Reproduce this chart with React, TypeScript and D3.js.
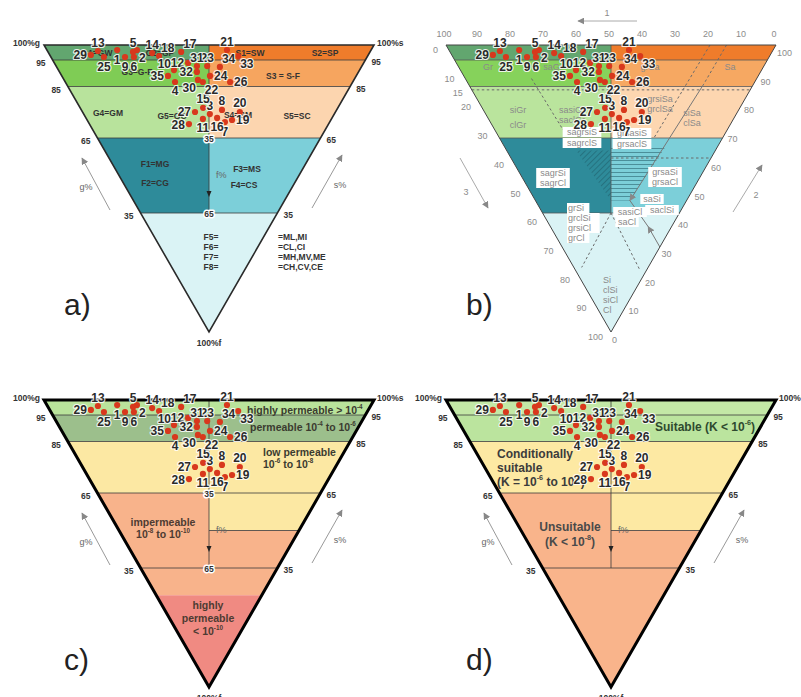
import React from "react";
import * as d3 from "d3";

// ---------------- data (ternary composition of the 35 samples, %) ----------------
const sampleIds = [1, 2, 3, 4, 5, 6, 7, 8, 9, 10, 11, 12, 13, 14, 15, 16, 17, 18, 19, 20, 21, 22, 23, 24, 25, 26, 27, 28, 29, 30, 31, 32, 33, 34, 35];
const gravelPct = [77.0, 71.0, 36.9, 53.6, 71.9, 70.8, 30.9, 34.1, 73.5, 56.2, 38.0, 53.3, 82.7, 65.9, 40.1, 34.0, 57.3, 63.3, 29.2, 28.4, 43.7, 45.2, 46.9, 44.2, 79.9, 37.0, 41.7, 41.1, 84.2, 47.1, 50.0, 48.9, 39.3, 42.9, 56.9];
const sandPct = [21.3, 27.3, 37.4, 33.1, 25.8, 25.2, 40.3, 41.8, 22.5, 35.0, 34.4, 40.6, 15.3, 31.4, 36.6, 38.8, 40.4, 33.0, 42.8, 46.7, 54.6, 41.5, 45.8, 44.8, 16.1, 49.7, 33.4, 29.3, 12.5, 40.4, 42.7, 41.6, 57.0, 49.5, 32.1];
const labelSide = ["s", "se", "n", "s", "n", "s", "s", "n", "s", "nw", "s", "w", "n", "n", "n", "s", "ne", "ne", "e", "n", "n", "se", "n", "e", "s", "e", "w", "w", "w", "sw", "n", "w", "se", "ne", "w"];

// fines class breaks and the diagram's (non-uniform) fines axis
const finesBreaks = [0, 5, 15, 35, 65, 100];
const finesAxisPx = [0, 15, 41.5, 93, 168, 287];

// side tick labels (a, c, d)
const sideTicks = [95, 85, 65, 35];
const centerTicks = [35, 65];
// panel b ternary axes
const gravelTicks = [100, 90, 80, 70, 60, 50, 40, 30, 20, 10, 0];
const finesTicks = [0, 10, 15, 20, 30, 40, 50, 60, 70, 80, 90, 100];
const sandTicks = [100, 90, 80, 70, 60, 50, 40, 30, 20, 10, 0];

const W = 330;
const H = 287;
const FONT = "'Liberation Sans', Arial, Helvetica, sans-serif";

type Pt = [number, number];

function geom(ox: number, oy: number) {
  const fy = d3.scaleLinear().domain(finesBreaks).range(finesAxisPx.map((v) => oy + v));
  const cx = ox + W / 2;
  const hw = (f: number) => (W / 2) * (1 - (fy(f) - oy) / H);
  const at = (g: number, s: number): Pt => {
    const f = 100 - g - s;
    const t = g + s;
    const r = t > 0 ? (s - g) / t : 0;
    return [cx + r * hw(f), fy(f)];
  };
  const L = (f: number): Pt => [cx - hw(f), fy(f)];
  const R = (f: number): Pt => [cx + hw(f), fy(f)];
  const C = (f: number): Pt => [cx, fy(f)];
  return { ox, oy, cx, fy, hw, at, L, R, C };
}

const regionSets: Record<string, [number, number, string, string][]> = {
  a: [
    [0, 5, "left", "#62a66f"], [0, 5, "right", "#ef7c2b"],
    [5, 15, "left", "#7fcc55"], [5, 15, "right", "#f6a55f"],
    [15, 35, "left", "#b8e39c"], [15, 35, "right", "#fcd5af"],
    [35, 65, "left", "#2e8b9a"], [35, 65, "right", "#7ccfd9"],
    [65, 100, "full", "#daf3f5"],
  ],
  b: [
    [0, 5, "left", "#62a66f"], [0, 5, "right", "#ef7c2b"],
    [5, 15, "left", "#86d25b"], [5, 15, "right", "#f6a862"],
    [15, 35, "left", "#bae49d"], [15, 35, "right", "#fdd6b0"],
    [35, 65, "left", "#2e8b9a"], [35, 65, "right", "#7ccfd9"],
    [65, 100, "full", "#daf3f5"],
  ],
  c: [
    [0, 5, "full", "#b9e39b"], [5, 15, "full", "#9cbf8c"], [15, 35, "full", "#fce8a3"],
    [35, 65, "left", "#f8b38b"], [35, 50, "right", "#fce8a3"], [50, 65, "right", "#f8b38b"],
    [65, 73, "full", "#f8b38b"], [73, 100, "full", "#f08a82"],
  ],
  d: [
    [0, 5, "full", "#c3e8a6"], [5, 15, "full", "#bbe49e"], [15, 35, "full", "#fde9a3"],
    [35, 65, "left", "#f9b48b"], [35, 50, "right", "#fde9a3"], [50, 65, "right", "#f9b48b"],
    [65, 100, "full", "#f9b48b"],
  ],
};

const offsets: Record<string, [number, number, "start" | "middle" | "end"]> = {
  n: [0, -8.5, "middle"],
  s: [0, 9.5, "middle"],
  e: [4, 0.5, "start"],
  w: [-4, 0.5, "end"],
  ne: [2, -8, "start"],
  se: [2, 8, "start"],
  sw: [-2, 8, "end"],
  nw: [-3, -6, "end"],
};

function Rich({ x, y, s, size, ...rest }: any) {
  const segs = String(s).split(/(\^\{[^}]*\})/).filter((d: string) => d.length);
  let up = false;
  return (
    <text x={x} y={y} fontSize={size} {...rest}>
      {segs.map((seg: string, i: number) => {
        if (seg.startsWith("^{")) {
          up = true;
          return (
            <tspan key={i} dy={-size * 0.42} fontSize={size * 0.6}>
              {seg.slice(2, -1)}
            </tspan>
          );
        }
        const el = (
          <tspan key={i} dy={up ? size * 0.42 : 0}>
            {seg}
          </tspan>
        );
        up = false;
        return el;
      })}
    </text>
  );
}

function Panel({ kind, ox, oy }: { kind: string; ox: number; oy: number }) {
  const G = geom(ox, oy);
  const P = (p: Pt) => `${p[0].toFixed(2)},${p[1].toFixed(2)}`;
  const poly = (pts: Pt[]) => "M" + pts.map(P).join("L") + "Z";
  const seg = (a: Pt, b: Pt) => `M${P(a)}L${P(b)}`;
  const regions = regionSets[kind];
  const thick = kind === "c" || kind === "d";
  const lineCol = kind === "b" ? "#555" : "#3a3a3a";
  const apex = G.C(100);
  const TL = G.L(0);
  const TR = G.R(0);

  const bandPath = (f0: number, f1: number, part: string) => {
    if (part === "full") return poly([G.L(f0), G.R(f0), G.R(f1), G.L(f1)]);
    if (part === "left") return poly([G.L(f0), G.C(f0), G.C(f1), G.L(f1)]);
    return poly([G.C(f0), G.R(f0), G.R(f1), G.C(f1)]);
  };

  const lx = (x: number) => ox + x;
  const ly = (y: number) => oy + y;

  const tickStyle = { fontSize: 8.5, fontWeight: 700, fill: "#333" } as any;
  const grayLab = { fontSize: 9, fill: "#8a8a8a" } as any;

  return (
    <g>
      {/* fills */}
      {regions.map((r, i) => (
        <path key={i} d={bandPath(r[0], r[1], r[2])} fill={r[3]} />
      ))}

      {/* hatching (b) */}
      {kind === "b" && (
        <g>
          <path d={poly([G.at(40, 20), G.C(40), G.C(60)])} fill="url(#hatchDiag)" />
          <path d={poly([G.C(38), G.at(15, 47), G.at(15, 25), G.C(60)])} fill="url(#hatchH)" />
        </g>
      )}

      {/* boundaries */}
      {[5, 15, 35, 65].map((f) => (
        <path key={f} d={seg(G.L(f), G.R(f))} stroke={lineCol} strokeWidth={0.8} fill="none" />
      ))}
      {thick && <path d={seg(G.C(50), G.R(50))} stroke={lineCol} strokeWidth={0.8} />}
      <path d={seg(G.C(0), G.C(65))} stroke={lineCol} strokeWidth={0.8} />

      {/* panel b dotted classification lines */}
      {kind === "b" && (
        <g stroke="#6a6a6a" strokeWidth={1} fill="none">
          <path d={seg(G.L(16.3), G.R(16.3))} strokeDasharray="2.5,2.5" />
          <path d={seg(G.at(68, 20), G.at(45, 20))} strokeDasharray="2.5,2.5" />
          <path d={seg(G.at(20, 80), G.at(20, 45))} strokeDasharray="2.5,2.5" />
          <path d={seg(G.at(15, 85), G.at(15, 71))} strokeDasharray="2.5,2.5" />
          <path d={seg(G.at(15, 71), G.at(15, 25))} stroke="#777" markerEnd="url(#arrGray)" />
          <path d={seg(G.at(0, 25), G.at(6, 25))} stroke="#777" markerEnd="url(#arrGray)" />
          <path d={seg(G.at(6, 25), G.at(15, 25))} stroke="#777" />
          <path d={seg(G.C(43), G.R(43))} strokeDasharray="2.5,2.5" />
          <path d={seg(G.C(65), G.at(17, 2))} strokeDasharray="2.5,2.5" />
          <path d={seg(G.C(65), G.at(1.7, 16.5))} strokeDasharray="2.5,2.5" />
        </g>
      )}

      {/* outline */}
      <path
        d={poly([TL, TR, apex])}
        fill="none"
        stroke={thick ? "#000" : kind === "b" ? "#444" : "#2a2a2a"}
        strokeWidth={thick ? 3 : kind === "b" ? 1 : 1.6}
        strokeLinejoin="miter"
      />

      {/* ---------- panel a labels ---------- */}
      {kind === "a" && (
        <g fontSize={8.5} fontWeight={700} fill="#333" textAnchor="middle" dominantBaseline="central">
          <text x={lx(53)} y={ly(8)}>G1=GW</text>
          <text x={lx(116)} y={ly(8)}>G2=GP</text>
          <text x={lx(206)} y={ly(8)}>S1=SW</text>
          <text x={lx(281)} y={ly(8)}>S2=SP</text>
          <text x={lx(93)} y={ly(27)}>G3=G-F</text>
          <text x={lx(239)} y={ly(31)}>S3 = S-F</text>
          <text x={lx(64)} y={ly(68)}>G4=GM</text>
          <text x={lx(128)} y={ly(71)}>G5=GC</text>
          <text x={lx(194)} y={ly(70)}>S4=SM</text>
          <text x={lx(253)} y={ly(71)}>S5=SC</text>
          <text x={lx(111)} y={ly(119)}>F1=MG</text>
          <text x={lx(111)} y={ly(138)}>F2=CG</text>
          <text x={lx(203)} y={ly(124)}>F3=MS</text>
          <text x={lx(200)} y={ly(140)}>F4=CS</text>
          <text x={lx(167)} y={ly(192)}>F5=</text>
          <text x={lx(167)} y={ly(202)}>F6=</text>
          <text x={lx(167)} y={ly(212)}>F7=</text>
          <text x={lx(167)} y={ly(222)}>F8=</text>
          <g textAnchor="start">
            <text x={lx(234)} y={ly(192)}>=ML,MI</text>
            <text x={lx(234)} y={ly(202)}>=CL,CI</text>
            <text x={lx(234)} y={ly(212)}>=MH,MV,ME</text>
            <text x={lx(234)} y={ly(222)}>=CH,CV,CE</text>
          </g>
        </g>
      )}

      {/* ---------- panel c labels ---------- */}
      {kind === "c" && (
        <g fontWeight={700} fill="#3b3b30" dominantBaseline="central">
          <Rich x={lx(203)} y={ly(10)} size={10.5} s={"highly permeable > 10^{-4}"} />
          <Rich x={lx(206)} y={ly(27)} size={10.5} s={"permeable 10^{-4} to 10^{-6}"} />
          <Rich x={lx(219)} y={ly(52)} size={10.5} s={"low permeable"} />
          <Rich x={lx(219)} y={ly(64)} size={10.5} s={"10^{-6} to 10^{-8}"} />
          <g fill="#4d3b32" textAnchor="middle">
            <Rich x={lx(119)} y={ly(122)} size={10.5} s={"impermeable"} />
            <Rich x={lx(119)} y={ly(134)} size={10.5} s={"10^{-8} to 10^{-10}"} />
            <Rich x={lx(164)} y={ly(205)} size={10.5} s={"highly"} />
            <Rich x={lx(164)} y={ly(218)} size={10.5} s={"permeable"} />
            <Rich x={lx(164)} y={ly(231)} size={10.5} s={"< 10^{-10}"} />
          </g>
        </g>
      )}

      {/* ---------- panel d labels ---------- */}
      {kind === "d" && (
        <g fontWeight={700} fill="#3c3c3c" dominantBaseline="central">
          <Rich x={lx(209)} y={ly(27)} size={12} fill="#2f4a2f" s={"Suitable (K < 10^{-6})"} />
          <Rich x={lx(51)} y={ly(54)} size={12} s={"Conditionally"} />
          <Rich x={lx(51)} y={ly(68)} size={12} s={"suitable"} />
          <Rich x={lx(51)} y={ly(82)} size={12} s={"(K = 10^{-6} to 10^{-8})"} />
          <g textAnchor="middle" fill="#4a4a4a">
            <Rich x={lx(124)} y={ly(127)} size={12} s={"Unsuitable"} />
            <Rich x={lx(124)} y={ly(142)} size={12} s={"(K < 10^{-8})"} />
          </g>
        </g>
      )}

      {/* ---------- panel b labels ---------- */}
      {kind === "b" && (
        <g {...grayLab} dominantBaseline="central">
          <g textAnchor="middle">
            <text x={lx(42)} y={ly(22)}>Gr</text>
            <text x={lx(107)} y={ly(22)}>saGr</text>
            <text x={lx(204)} y={ly(22)}>grSa</text>
            <text x={lx(284)} y={ly(22)}>Sa</text>
            <text x={lx(72)} y={ly(65)}>siGr</text>
            <text x={lx(72)} y={ly(80)}>clGr</text>
            <text x={lx(126)} y={ly(65)}>sasiGr</text>
            <text x={lx(126)} y={ly(75)}>saclGr</text>
            <text x={lx(214)} y={ly(54)}>grsiSa</text>
            <text x={lx(214)} y={ly(64)}>grclSa</text>
            <text x={lx(246)} y={ly(68)}>siSa</text>
            <text x={lx(246)} y={ly(78)}>clSa</text>
          </g>
          {[
            ["sagrsiS", 136, 87], ["sagrclS", 136, 98], ["grsasiS", 186, 88], ["grsaclS", 186, 99],
            ["sagrSi", 107, 128], ["sagrCl", 107, 138], ["grsaSi", 219, 127], ["grsaCl", 219, 137],
            ["saSi", 206, 154], ["saclSi", 216, 165], ["sasiCl", 184, 167], ["saCl", 181, 177],
          ].map(([t, x, y]: any) => (
            <g key={t}>
              <rect x={lx(x) - t.length * 2.55 - 1.5} y={ly(y) - 5} width={t.length * 5.1 + 3} height={10} fill="#fff" />
              <text x={lx(x)} y={ly(y)} textAnchor="middle">{t}</text>
            </g>
          ))}
          {[["grSi", 163], ["grclSi", 173], ["grsiCl", 183], ["grCl", 193]].map(([t, y]: any) => (
            <g key={t}>
              <rect x={lx(122) - 1} y={ly(y) - 5} width={t.length * 5.1 + 2} height={10} fill="#fff" />
              <text x={lx(122)} y={ly(y)}>{t}</text>
            </g>
          ))}
          {[["Si", 235], ["clSi", 245], ["siCl", 255], ["Cl", 265]].map(([t, y]: any) => (
            <text key={t} x={lx(157)} y={ly(y)}>{t}</text>
          ))}
        </g>
      )}

      {/* ---------- ticks ---------- */}
      {kind !== "b" && (
        <g {...tickStyle} dominantBaseline="central">
          <text x={TL[0] - 4} y={TL[1] - 2} textAnchor="end">100%g</text>
          <text x={TR[0] + 3} y={TR[1] - 2} textAnchor="start">100%s</text>
          <text x={apex[0]} y={apex[1] + 11} textAnchor="middle">100%f</text>
          {sideTicks.map((v) => {
            const f = 100 - v;
            const l = G.L(f);
            const r = G.R(f);
            return (
              <g key={v}>
                <text x={l[0] - 7} y={l[1] + 3} textAnchor="end">{v}</text>
                <text x={r[0] + 6} y={r[1] + 2} textAnchor="start">{v}</text>
              </g>
            );
          })}
          {kind !== "d" &&
            centerTicks.map((v) => {
              const c = G.C(v);
              return (
                <text key={v} x={c[0]} y={c[1] + 1} textAnchor="middle" stroke="#fff" strokeWidth={3} paintOrder="stroke" strokeLinejoin="round">
                  {v}
                </text>
              );
            })}
          {/* arrows */}
          <g fontWeight={400} fill="#666" fontSize={9}>
            <path d={seg([lx(66), ly(165)], [lx(38), ly(113)])} stroke="#999" strokeWidth={1} markerEnd="url(#arrGray)" />
            <text x={lx(42)} y={ly(142)} textAnchor="middle">g%</text>
            <path d={seg([lx(268), ly(163)], [lx(298), ly(110)])} stroke="#999" strokeWidth={1} markerEnd="url(#arrGray)" />
            <text x={lx(296)} y={ly(140)} textAnchor="middle">s%</text>
            <text x={G.cx + 7} y={ly(130)} textAnchor="start">f%</text>
          </g>
          <path d={`M${G.cx - 2.5},${ly(146)}L${G.cx + 2.5},${ly(146)}L${G.cx},${ly(152)}Z`} fill="#222" />
        </g>
      )}

      {kind === "b" && (
        <g fontSize={9} fill="#8c8c8c" dominantBaseline="central">
          {gravelTicks.map((v) => (
            <text key={"g" + v} x={ox + ((100 - v) / 100) * W - 2} y={oy - 11} textAnchor="middle">{v}</text>
          ))}
          {finesTicks.map((v) => (
            <text key={"f" + v} x={ox + (v / 100) * (W / 2) - 8} y={oy + (v / 100) * H + 5} textAnchor="end">{v}</text>
          ))}
          {sandTicks.map((v) => (
            <text key={"s" + v} x={ox + W - ((100 - v) / 100) * (W / 2) + 1} y={oy + ((100 - v) / 100) * H + 8} textAnchor="start">{v}</text>
          ))}
          <path d={seg([lx(191), ly(-24)], [lx(132), ly(-24)])} stroke="#aaa" strokeWidth={1} markerEnd="url(#arrGray)" />
          <text x={lx(161)} y={ly(-32)} textAnchor="middle">1</text>
          <path d={seg([lx(14), ly(113)], [lx(42), ly(163)])} stroke="#aaa" strokeWidth={1} markerEnd="url(#arrGray)" />
          <text x={lx(20)} y={ly(147)} textAnchor="middle">3</text>
          <path d={seg([lx(287), ly(167)], [lx(316), ly(120)])} stroke="#aaa" strokeWidth={1} markerEnd="url(#arrGray)" />
          <text x={lx(310)} y={ly(150)} textAnchor="middle">2</text>
        </g>
      )}

      {/* ---------- samples ---------- */}
      <g>
        {sampleIds.map((id, i) => {
          const p = G.at(gravelPct[i], sandPct[i]);
          return <circle key={id} cx={p[0]} cy={p[1]} r={3.1} fill="#d8381d" />;
        })}
        {sampleIds.map((id, i) => {
          const p = G.at(gravelPct[i], sandPct[i]);
          const o = offsets[labelSide[i]];
          return (
            <text
              key={"t" + id}
              x={p[0] + o[0]}
              y={p[1] + o[1]}
              textAnchor={o[2]}
              dominantBaseline="central"
              fontSize={12}
              fontWeight={700}
              fill="#2b2b2b"
              stroke="#fff"
              strokeWidth={2.2}
              strokeOpacity={0.85}
              paintOrder="stroke"
              strokeLinejoin="round"
            >
              {id}
            </text>
          );
        })}
      </g>

      {/* panel letter */}
      <text x={lx(20)} y={ly(270)} fontSize={30} fill="#222">
        {kind + ")"}
      </text>
    </g>
  );
}

export default function App() {
  const panels = [
    { kind: "a", ox: 44, oy: 45 },
    { kind: "b", ox: 446, oy: 45 },
    { kind: "c", ox: 44, oy: 400 },
    { kind: "d", ox: 446, oy: 400 },
  ];
  return (
    <svg
      width={801}
      height={697}
      viewBox="0 0 801 697"
      style={{ position: "absolute", left: 0, top: 0, background: "#fff" }}
      fontFamily={FONT}
    >
      <defs>
        <marker id="arrGray" viewBox="0 0 10 10" refX="9" refY="5" markerWidth="7" markerHeight="7" markerUnits="userSpaceOnUse" orient="auto">
          <path d="M0,0L10,5L0,10Z" fill="#888" />
        </marker>
        <pattern id="hatchDiag" width="4" height="4" patternUnits="userSpaceOnUse" patternTransform="rotate(45)">
          <line x1="0" y1="0" x2="0" y2="4" stroke="#1d5a66" strokeWidth="1" />
        </pattern>
        <pattern id="hatchH" width="6" height="4" patternUnits="userSpaceOnUse">
          <line x1="0" y1="0.5" x2="6" y2="0.5" stroke="#3f7f8a" strokeWidth="0.8" />
        </pattern>
      </defs>
      <rect x={0} y={0} width={801} height={697} fill="#fff" />
      {panels.map((p) => (
        <Panel key={p.kind} kind={p.kind} ox={p.ox} oy={p.oy} />
      ))}
    </svg>
  );
}
